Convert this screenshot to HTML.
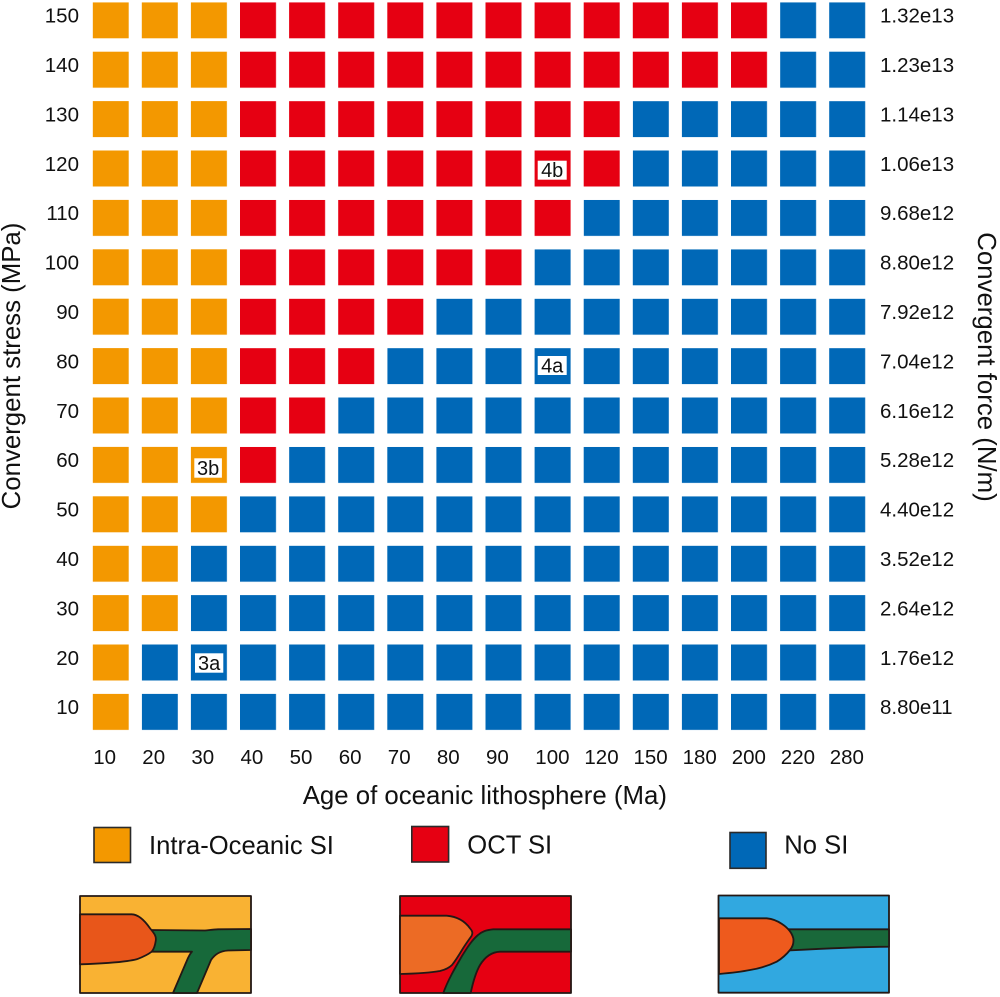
<!DOCTYPE html>
<html>
<head>
<meta charset="utf-8">
<style>
  html, body { margin:0; padding:0; background:#ffffff; }
  body { width:1000px; height:997px; overflow:hidden; }
  svg { display:block; }
  text { font-family: "Liberation Sans", Arial, sans-serif; fill:#111; }
</style>
</head>
<body>
<svg width="1000" height="997" viewBox="0 0 1000 997" xmlns="http://www.w3.org/2000/svg">
  <defs>
    <pattern id="pb" patternUnits="userSpaceOnUse" x="92.7" y="2.3" width="49.1" height="49.4">
      <rect x="0" y="0" width="36" height="36" fill="#0068B7"/>
    </pattern>
    <pattern id="po" patternUnits="userSpaceOnUse" x="92.7" y="2.3" width="49.1" height="49.4">
      <rect x="0" y="0" width="36" height="36" fill="#F39800"/>
    </pattern>
    <pattern id="pr" patternUnits="userSpaceOnUse" x="92.7" y="2.3" width="49.1" height="49.4">
      <rect x="0" y="0" width="36" height="36" fill="#E60012"/>
    </pattern>
  </defs>

  <!-- Orange regions -->
  <rect x="92.7" y="2.3" width="141.3" height="537.4" fill="url(#po)"/>
  <rect x="92.7" y="545.7" width="92.2" height="92.8" fill="url(#po)"/>
  <rect x="92.7" y="644.5" width="43.1" height="92.8" fill="url(#po)"/>

  <!-- Red regions -->
  <rect x="240" y="2.3" width="534.1" height="92.8" fill="url(#pr)"/>
  <rect x="240" y="101.1" width="386.8" height="92.8" fill="url(#pr)"/>
  <rect x="240" y="199.9" width="337.7" height="43.4" fill="url(#pr)"/>
  <rect x="240" y="249.3" width="288.6" height="43.4" fill="url(#pr)"/>
  <rect x="240" y="298.7" width="190.4" height="43.4" fill="url(#pr)"/>
  <rect x="240" y="348.1" width="141.3" height="43.4" fill="url(#pr)"/>
  <rect x="240" y="397.5" width="92.2" height="43.4" fill="url(#pr)"/>
  <rect x="240" y="446.9" width="43.1" height="43.4" fill="url(#pr)"/>

  <!-- Blue regions -->
  <rect x="780.1" y="2.3" width="92.2" height="92.8" fill="url(#pb)"/>
  <rect x="632.8" y="101.1" width="239.5" height="92.8" fill="url(#pb)"/>
  <rect x="583.7" y="199.9" width="288.6" height="43.4" fill="url(#pb)"/>
  <rect x="534.6" y="249.3" width="337.7" height="43.4" fill="url(#pb)"/>
  <rect x="436.4" y="298.7" width="435.8" height="43.4" fill="url(#pb)"/>
  <rect x="387.3" y="348.1" width="484.9" height="43.4" fill="url(#pb)"/>
  <rect x="338.2" y="397.5" width="534" height="43.4" fill="url(#pb)"/>
  <rect x="289.1" y="446.9" width="583.1" height="43.4" fill="url(#pb)"/>
  <rect x="240" y="496.3" width="632.2" height="43.4" fill="url(#pb)"/>
  <rect x="190.9" y="545.7" width="681.3" height="92.8" fill="url(#pb)"/>
  <rect x="141.8" y="644.5" width="730.4" height="92.8" fill="url(#pb)"/>

  <!-- Case labels -->
  <rect x="537.7" y="160.7" width="29" height="19" fill="#fff"/>
  <text x="552.2" y="177" font-size="20" text-anchor="middle">4b</text>
  <rect x="537.7" y="356" width="29" height="19" fill="#fff"/>
  <text x="552.2" y="372.3" font-size="20" text-anchor="middle">4a</text>
  <rect x="194.3" y="458.3" width="27.6" height="19.4" fill="#fff"/>
  <text x="208.1" y="475" font-size="20" text-anchor="middle">3b</text>
  <rect x="195" y="653.3" width="28.3" height="19.4" fill="#fff"/>
  <text x="209.1" y="670" font-size="20" text-anchor="middle">3a</text>

  <!-- Left y tick labels -->
  <g font-size="20.5" text-anchor="end">
    <text x="79" y="22.6">150</text>
    <text x="79" y="72">140</text>
    <text x="79" y="121.4">130</text>
    <text x="79" y="170.8">120</text>
    <text x="79" y="220.2">110</text>
    <text x="79" y="269.6">100</text>
    <text x="79" y="319">90</text>
    <text x="79" y="368.4">80</text>
    <text x="79" y="417.8">70</text>
    <text x="79" y="467.2">60</text>
    <text x="79" y="516.6">50</text>
    <text x="79" y="566">40</text>
    <text x="79" y="615.4">30</text>
    <text x="79" y="664.8">20</text>
    <text x="79" y="714.2">10</text>
  </g>

  <!-- Right y tick labels -->
  <g font-size="20.5" text-anchor="start">
    <text x="880" y="22.6">1.32e13</text>
    <text x="880" y="72">1.23e13</text>
    <text x="880" y="121.4">1.14e13</text>
    <text x="880" y="170.8">1.06e13</text>
    <text x="880" y="220.2">9.68e12</text>
    <text x="880" y="269.6">8.80e12</text>
    <text x="880" y="319">7.92e12</text>
    <text x="880" y="368.4">7.04e12</text>
    <text x="880" y="417.8">6.16e12</text>
    <text x="880" y="467.2">5.28e12</text>
    <text x="880" y="516.6">4.40e12</text>
    <text x="880" y="566">3.52e12</text>
    <text x="880" y="615.4">2.64e12</text>
    <text x="880" y="664.8">1.76e12</text>
    <text x="880" y="714.2">8.80e11</text>
  </g>

  <!-- X tick labels -->
  <g font-size="20.5" text-anchor="start">
    <text x="93.2" y="764">10</text>
    <text x="142.3" y="764">20</text>
    <text x="191.4" y="764">30</text>
    <text x="240.5" y="764">40</text>
    <text x="289.6" y="764">50</text>
    <text x="338.7" y="764">60</text>
    <text x="387.8" y="764">70</text>
    <text x="436.9" y="764">80</text>
    <text x="486" y="764">90</text>
    <text x="535.3" y="764">100</text>
    <text x="584.4" y="764">120</text>
    <text x="633.5" y="764">150</text>
    <text x="682.6" y="764">180</text>
    <text x="731.7" y="764">200</text>
    <text x="780.8" y="764">220</text>
    <text x="829.7" y="764">280</text>
  </g>

  <!-- Axis titles -->
  <text x="302.7" y="804" font-size="25.8">Age of oceanic lithosphere (Ma)</text>
  <text transform="translate(20,366) rotate(-90)" font-size="25.8" text-anchor="middle">Convergent stress (MPa)</text>
  <text transform="translate(978,367) rotate(90)" font-size="25.8" text-anchor="middle">Convergent force (N/m)</text>

  <!-- Legend -->
  <rect x="94" y="827.5" width="36.5" height="35" fill="#F39800" stroke="#2a2a2a" stroke-width="1.6"/>
  <text x="149" y="854" font-size="25.6">Intra-Oceanic SI</text>
  <rect x="411.8" y="826.5" width="36.8" height="35.5" fill="#E60012" stroke="#2a2a2a" stroke-width="1.6"/>
  <text x="467.3" y="853.5" font-size="25.6">OCT SI</text>
  <rect x="730" y="832.5" width="36" height="35.8" fill="#0068B7" stroke="#2a2a2a" stroke-width="1.6"/>
  <text x="784.3" y="853.5" font-size="25.6">No SI</text>

  <!-- Illustration 1: Intra-oceanic -->
  <g stroke="#231815" stroke-width="1.8" stroke-linejoin="round">
    <rect x="80" y="896" width="171" height="97" fill="#F9B233"/>
    <path d="M150,930 L205,930.5 C210,930 214,929.5 218,929.3 L251,929 L251,950 L228,950.5 C220,951 215,954 211,960 L197,993 L173,993 L188,958 C189.5,955 190.5,953 192,951.7 L150,951.7 Z" fill="#17693A"/>
    <path d="M80,914.3 L131.7,914.3 C137,914.5 143,918 150,928.3 C155,934 156.5,937 155.7,941 C155,946 154,949 151.7,951.7 C146,956 140,958 136.7,959.3 C126,962 110,963.3 80,964.3 Z" fill="#E8561A"/>
  </g>

  <!-- Illustration 2: OCT -->
  <g stroke="#231815" stroke-width="1.8" stroke-linejoin="round">
    <rect x="400" y="896" width="171" height="97" fill="#E60012"/>
    <path d="M571,929.3 L493.3,929.3 C486,930 482,931.5 478,935 C472,940 467,948 462,956 C455,968 448,980 443.3,993 L470.7,993 C473,982 476,972 480,965 C485,957 492,952 500,951.7 L571,951.7 Z" fill="#17693A"/>
    <path d="M400,915.7 L446.7,915.7 C456,916.5 464,920 470,928.3 C472.5,931 473,933 471.5,936 C468,941 465,945 462,950 C459,955 456,960 452,965 C449,968 446,969.5 440,971 C432,972.5 420,973.5 400,974 Z" fill="#EC6B25"/>
  </g>

  <!-- Illustration 3: No SI -->
  <g stroke="#231815" stroke-width="1.8" stroke-linejoin="round">
    <rect x="718.5" y="895.5" width="170.5" height="97.2" fill="#31A8E0"/>
    <path d="M786,929.3 L889,929.3 L889,946.7 C855,947 825,948.5 788,950.5 Z" fill="#19683A"/>
    <path d="M719,918.3 L766.7,918.3 C772,918.8 777,920.5 782,924 C788,928 792,933 793.3,938.3 C794,943 792.5,947 790,950 C786,955 782,958.5 776.7,961.7 C768,966 759,968.5 750,970 C740,972 730,973 719,974 Z" fill="#EE5A1D"/>
  </g>
</svg>
</body>
</html>
